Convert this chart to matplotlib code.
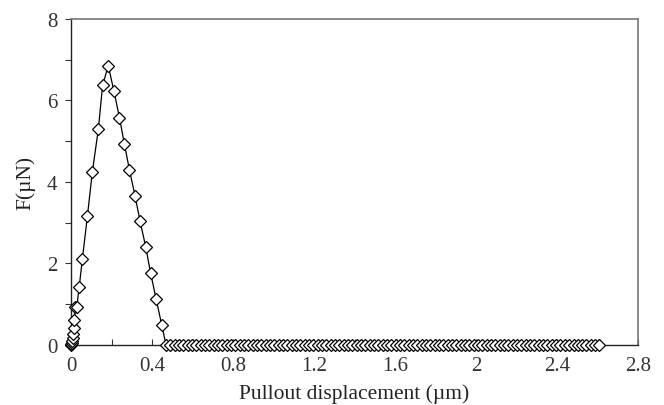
import matplotlib
matplotlib.use('Agg')
import matplotlib.pyplot as plt

plt.rcParams['font.family'] = ['Liberation Serif', 'DejaVu Serif']

# pullout curve: rise near the origin, peak, drop, then zero force
x_rise = [0.0, 0.002, 0.004, 0.006, 0.008, 0.010, 0.013, 0.017, 0.021, 0.028,
          0.040, 0.056, 0.081, 0.105, 0.135, 0.156, 0.184]
f_rise = [0.0, 0.02, 0.05, 0.10, 0.17, 0.27, 0.42, 0.62, 0.93, 0.93,
          1.41, 2.11, 3.17, 4.24, 5.30, 6.38, 6.85]
x_fall = [0.212, 0.239, 0.263, 0.288, 0.316, 0.341, 0.369, 0.393, 0.420, 0.448]
f_fall = [6.22, 5.58, 4.94, 4.30, 3.66, 3.03, 2.40, 1.76, 1.13, 0.49]
x_tail = [0.469, 0.490, 0.512, 0.533, 0.555, 0.576, 0.597, 0.619, 0.640, 0.662,
          0.683, 0.704, 0.726, 0.747, 0.769, 0.790, 0.811, 0.833, 0.854, 0.876,
          0.897, 0.918, 0.940, 0.961, 0.983, 1.004, 1.025, 1.047, 1.068, 1.090,
          1.111, 1.132, 1.154, 1.175, 1.197, 1.218, 1.239, 1.261, 1.282, 1.304,
          1.325, 1.346, 1.368, 1.389, 1.411, 1.432, 1.453, 1.475, 1.496, 1.518,
          1.539, 1.560, 1.582, 1.603, 1.625, 1.646, 1.667, 1.689, 1.710, 1.732,
          1.753, 1.774, 1.796, 1.817, 1.839, 1.860, 1.881, 1.903, 1.924, 1.946,
          1.967, 1.988, 2.010, 2.031, 2.053, 2.074, 2.095, 2.117, 2.138, 2.160,
          2.181, 2.202, 2.224, 2.245, 2.267, 2.288, 2.309, 2.331, 2.352, 2.374,
          2.395, 2.416, 2.438, 2.459, 2.481, 2.502, 2.523, 2.545, 2.566, 2.588,
          2.609]
f_tail = [0.0] * len(x_tail)

x = x_rise + x_fall + x_tail
f = f_rise + f_fall + f_tail

x_ticks = [0, 0.4, 0.8, 1.2, 1.6, 2.0, 2.4, 2.8]
x_labels = ['0', '0.4', '0.8', '1.2', '1.6', '2', '2.4', '2.8']
x_minor = [0.2, 0.6, 1.0, 1.4, 1.8, 2.2, 2.6]
y_ticks = [0, 2, 4, 6, 8]
y_labels = ['0', '2', '4', '6', '8']
y_minor = [1, 3, 5, 7]

fig = plt.figure(figsize=(6.64, 4.06), dpi=100)
ax = fig.add_axes([0.107, 0.148, 0.854, 0.803])

ax.plot(x, f, color='black', lw=0.9, marker='D', markersize=6,
        markerfacecolor='white', markeredgecolor='black', markeredgewidth=0.9,
        clip_on=False, zorder=3)

ax.set_xlim(0, 2.8)
ax.set_ylim(0, 8)
ax.set_xticks(x_ticks, labels=x_labels)
ax.set_xticks(x_minor, minor=True)
ax.set_yticks(y_ticks, labels=y_labels)
ax.set_yticks(y_minor, minor=True)
ax.tick_params(axis='x', which='both', direction='in', length=4, width=0.8,
               labelsize=15, pad=8, colors='#333333', labelcolor='#333333')
ax.tick_params(axis='y', which='both', direction='out', length=4, width=0.8,
               labelsize=15, pad=6, colors='#333333', labelcolor='#333333')

for side in ['left', 'bottom']:
    ax.spines[side].set_color('#222222')
    ax.spines[side].set_linewidth(1.0)
for side in ['top', 'right']:
    ax.spines[side].set_color('#777777')
    ax.spines[side].set_linewidth(1.2)

ax.set_xlabel('Pullout displacement (µm)', fontsize=15.5, color='#222222', labelpad=6)
ax.set_ylabel('F(µN)', fontsize=15.5, color='#222222', labelpad=8)

fig.savefig('out.png', dpi=100)
